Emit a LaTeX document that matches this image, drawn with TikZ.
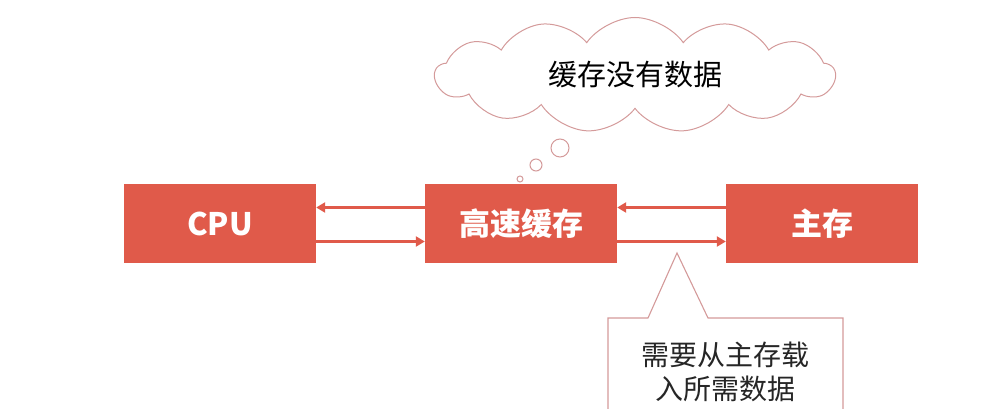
\documentclass[tikz,border=0pt]{standalone}
\usepackage{fontspec}
\setmainfont{Noto Sans CJK SC}
\usetikzlibrary{shapes.symbols,arrows.meta}
\definecolor{boxred}{HTML}{E05A4A}
\definecolor{pinkline}{HTML}{D49A9A}
\begin{document}
\begin{tikzpicture}[x=1pt,y=-1pt,
  blk/.style={fill=boxred,draw=none,minimum width=192pt,minimum height=78pt,text=white,font=\bfseries\fontsize{31}{36}\selectfont},
  arr/.style={draw=boxred,line width=2.5pt,-{Triangle[length=9pt,width=10pt]}}]
\useasboundingbox (0,0) rectangle (1005,409);
\node[blk] (cpu) at (220,223.5) {CPU};
\node[blk] (cache) at (521,223.5) {高速缓存};
\node[blk] (mem) at (822,223.5) {主存};
\draw[arr] ([yshift=16pt]cache.west) -- ([yshift=16pt]cpu.east);
\draw[arr] ([yshift=-18pt]cpu.east) -- ([yshift=-18pt]cache.west);
\draw[arr] ([yshift=16pt]mem.west) -- ([yshift=16pt]cache.east);
\draw[arr] ([yshift=-18pt]cache.east) -- ([yshift=-18pt]mem.west);
\node[cloud,cloud puffs=13,cloud puff arc=110,aspect=3.6,draw=pinkline,line width=1pt,fill=white,minimum width=400pt,minimum height=115pt,inner sep=0pt,font=\fontsize{29}{34}\selectfont] (cl) at (635,75) {缓存没有数据};
\draw[pinkline,line width=1pt,fill=white] (560,148) circle (9) (536,165) circle (6) (520,179) circle (3);
\coordinate (tip) at (677,253);
\draw[pinkline,line width=1.1pt,fill=white] (608,420) -- (608,318) -- (648,318) -- (tip) -- (708,318) -- (843,318) -- (843,420);
\node[align=center,font=\fontsize{28}{34}\selectfont,text=black!85] (lbl) at (725,372) {需要从主存载\\入所需数据};
\end{tikzpicture}
\end{document}
